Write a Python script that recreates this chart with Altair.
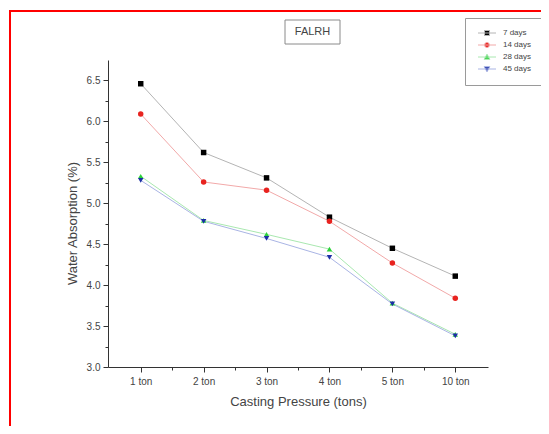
import json
import altair as alt
import pandas as pd

# ---- data ----
categories = ["1 ton", "2 ton", "3 ton", "4 ton", "5 ton", "10 ton"]
series_names = ["7 days", "14 days", "28 days", "45 days"]
days7 = [6.46, 5.62, 5.31, 4.83, 4.45, 4.11]
days14 = [6.09, 5.26, 5.16, 4.78, 4.27, 3.84]
days28 = [5.33, 4.79, 4.62, 4.44, 3.78, 3.40]
days45 = [5.28, 4.78, 4.57, 4.34, 3.77, 3.38]

point_colors = ["#000000", "#e8231f", "#2bd13a", "#1c2fa5"]
line_colors = ["#b4b4b4", "#f2a9a9", "#a9e8b0", "#a9b4e4"]
shapes = ["square", "circle", "triangle-up", "triangle-down"]
legend_paths = [
    "M-3.6,0H3.6M-1,-1H1V1H-1Z",
    "M-3.6,0H3.6M1,0A1,1,0,1,1,-1,0A1,1,0,1,1,1,0Z",
    "M-3.6,0H3.6M0,-1.1L1.15,0.9H-1.15Z",
    "M-3.6,0H3.6M0,1.1L1.15,-0.9H-1.15Z",
]
y_tick_values = [3.0, 3.25, 3.5, 3.75, 4.0, 4.25, 4.5, 4.75, 5.0, 5.25,
                 5.5, 5.75, 6.0, 6.25, 6.5]
x_tick_values = [1, 1.5, 2, 2.5, 3, 3.5, 4, 4.5, 5, 5.5, 6]
TITLE_TEXT = "FALRH"
X_TITLE = "Casting Pressure (tons)"
Y_TITLE = "Water Absorption (%)"

rows = []
for name, vals in zip(series_names, [days7, days14, days28, days45]):
    for i, (cat, v) in enumerate(zip(categories, vals)):
        rows.append({"category": cat, "pos": i + 1, "series": name, "value": v})
df = pd.DataFrame(rows)

W, H = 380, 307

x_enc = alt.X(
    "pos:Q",
    scale=alt.Scale(domain=[0.48, 6.52], nice=False, zero=False),
    axis=alt.Axis(
        values=x_tick_values,
        labelExpr="datum.value % 1 == 0 ? " + json.dumps(categories) + "[datum.value - 1] : ''",
        tickSize={"condition": {"test": "datum.value % 1 != 0", "value": 3}, "value": 5},
        title=X_TITLE,
        grid=False,
        labelPadding=4,
        titlePadding=9,
    ),
)
y_enc = alt.Y(
    "value:Q",
    scale=alt.Scale(domain=[3.0, 6.75], nice=False, zero=False),
    axis=alt.Axis(
        values=y_tick_values,
        labelExpr="datum.value % 0.5 == 0 ? format(datum.value, '.1f') : ''",
        tickSize={"condition": {"test": "datum.value % 0.5 != 0", "value": 3}, "value": 5},
        title=Y_TITLE,
        grid=False,
        labelPadding=3,
        titleX=-36,
        titleY=163,
        titleBaseline="middle",
        titleAlign="center",
        titleAngle=270,
    ),
)

base = alt.Chart(df)

lines = base.mark_line(strokeWidth=1).encode(
    x=x_enc,
    y=y_enc,
    color=alt.Color("series:N", sort=series_names,
                    scale=alt.Scale(domain=series_names, range=line_colors), legend=None),
    detail="series:N",
)

points = base.mark_point(filled=True, size=30, opacity=1).encode(
    x=x_enc,
    y=y_enc,
    color=alt.Color("series:N", sort=series_names,
                    scale=alt.Scale(domain=series_names, range=point_colors), legend=None),
    shape=alt.Shape("series:N", sort=series_names,
                    scale=alt.Scale(domain=series_names, range=shapes), legend=None),
)

leg = alt.Legend(
    title=None,
    orient="none",
    legendX=357,
    legendY=-42,
    strokeColor="#9a9a9a",
    fillColor="#ffffff",
    padding=11,
    symbolSize=25,
    symbolStrokeWidth=1,
    symbolOpacity=1,
    symbolOffset=7,
    labelFontSize=8,
    labelColor="#444444",
    labelFont="Liberation Sans",
    labelOffset=12,
    rowPadding=2,
)

legend_layer = base.mark_point(filled=True, opacity=0).encode(
    x=x_enc,
    y=y_enc,
    color=alt.Color("series:N", sort=series_names,
                    scale=alt.Scale(domain=series_names, range=point_colors), legend=leg),
    stroke=alt.Stroke("series:N", sort=series_names,
                      scale=alt.Scale(domain=series_names, range=line_colors), legend=leg),
    shape=alt.Shape("series:N", sort=series_names,
                    scale=alt.Scale(domain=series_names, range=legend_paths), legend=leg),
)

one = pd.DataFrame({"t": [TITLE_TEXT]})
title_box = alt.Chart(one).mark_rect(filled=False, stroke="#8a8a8a", strokeWidth=1).encode(
    x=alt.value(177), x2=alt.value(232), y=alt.value(-40), y2=alt.value(-16)
)
title_text = alt.Chart(one).mark_text(
    fontSize=11, font="Liberation Sans", color="#444444", baseline="middle", align="center"
).encode(x=alt.value(204.5), y=alt.value(-28), text="t:N")

frame_v = alt.Chart(one).mark_rule(color="#ff0000", strokeWidth=2).encode(
    x=alt.value(-98), y=alt.value(-49), y2=alt.value(366)
)
frame_h = alt.Chart(one).mark_rule(color="#ff0000", strokeWidth=2).encode(
    x=alt.value(-99), x2=alt.value(433), y=alt.value(-49)
)

chart = alt.layer(
    lines, points, legend_layer, title_box, title_text, frame_v, frame_h
).resolve_scale(
    color="independent", shape="independent", stroke="independent"
).resolve_legend(
    color="independent", shape="independent", stroke="independent"
).properties(
    width=W,
    height=H,
    padding={"left": 100, "top": 52, "right": 53, "bottom": 59},
    autosize=alt.AutoSizeParams(type="none"),
).configure_view(
    stroke=None
).configure_axis(
    domainColor="#333333",
    tickColor="#333333",
    labelColor="#444444",
    labelFontSize=10,
    labelFont="Liberation Sans",
    titleFont="Liberation Sans",
    titleFontSize=13,
    titleFontWeight="normal",
    titleColor="#444444",
)

chart.save("out.html", embed_options={"renderer": "svg", "actions": False})
